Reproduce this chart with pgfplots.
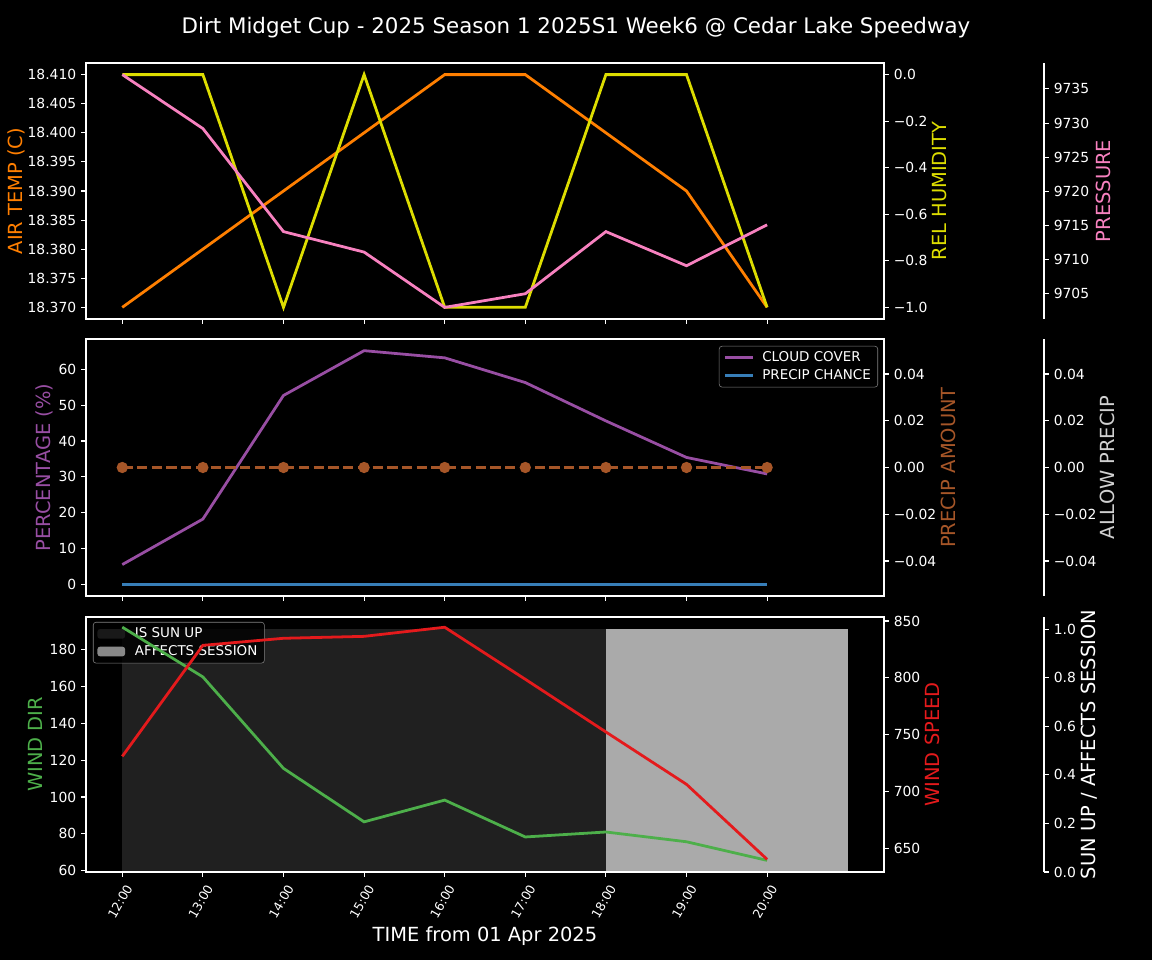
\documentclass[border=0pt]{standalone}
\usepackage{fontspec}
\setmainfont{DejaVu Sans}
\usepackage{pgfplots}
\pgfplotsset{compat=1.18}
\definecolor{cOrange}{HTML}{FF7F00}
\definecolor{cYellow}{HTML}{DDDD00}
\definecolor{cPink}{HTML}{F781BF}
\definecolor{cPurple}{HTML}{984EA3}
\definecolor{cBlue}{HTML}{377EB8}
\definecolor{cBrown}{HTML}{A65628}
\definecolor{cGreen}{HTML}{4DAF4A}
\definecolor{cRed}{HTML}{E41A1C}
\definecolor{cSun}{HTML}{202020}
\definecolor{cSess}{HTML}{AAAAAA}
\definecolor{cAllow}{HTML}{D0D0D0}
\pgfplotsset{
  base/.style={
    scale only axis, anchor=south west, width=574.56pt,
    xmin=-0.45, xmax=9.45,
    axis line style={white, line width=0.8pt},
    tick style={white, line width=0.8pt},
    major tick length=3.5pt,
    tick align=outside,
    scaled ticks=false,
    ticklabel style={text=white, font=\fontsize{10}{12}\selectfont},
    label style={font=\fontsize{14}{17}\selectfont},
    /pgf/number format/assume math mode=true,
    /pgf/number format/1000 sep={},
    xtick={0,...,8},
  },
  twin/.style={base, hide x axis, axis y line*=right},
  far/.style={base, hide x axis, axis y line*=right, width=689.76pt, xmax=11.435},
  dline/.style={line width=2pt, mark=none},
  patchlegend/.style={legend image code/.code={\fill[##1] (0pt,-3.5pt) rectangle (20pt,3.5pt); \path (25pt,0pt);}},
  linelegend/.style={legend image code/.code={\draw[##1] (0pt,0pt) -- (20pt,0pt); \path (24pt,0pt);}},
  mylegend/.style={legend cell align=left, legend style={fill=black, fill opacity=0.8, text opacity=1, draw=gray, rounded corners=2pt, text=white, font=\fontsize{9.7}{12}\selectfont}},
}
\begin{document}
\begin{tikzpicture}
\fill[black] (0,0) rectangle (829.44pt,691.2pt);
\node[text=white, font=\fontsize{15.4}{18}\selectfont] at (414.72pt,671.04pt) {Dirt Midget Cup - 2025 Season 1 2025S1 Week6 @ Cedar Lake Speedway};

% ---------------- Panel 1 ----------------
\begin{axis}[base, at={(61.92pt,461.52pt)}, height=184.32pt,
  ymin=18.368, ymax=18.412, xtick pos=bottom, ytick pos=left, xticklabels={},
  ytick={18.370,18.375,18.380,18.385,18.390,18.395,18.400,18.405,18.410},
  yticklabels={18.370,18.375,18.380,18.385,18.390,18.395,18.400,18.405,18.410},
  ylabel={AIR TEMP (C)}, ylabel style={text=cOrange}, ylabel shift=-5pt]
\addplot[dline, cOrange] coordinates {(0,18.370)(1,18.380)(2,18.390)(3,18.400)(4,18.410)(5,18.410)(6,18.400)(7,18.390)(8,18.370)};
\end{axis}
\begin{axis}[twin, at={(61.92pt,461.52pt)}, height=184.32pt,
  ymin=-1.05, ymax=0.05, ytick={-1,-0.8,-0.6,-0.4,-0.2,0},
  yticklabels={−1.0,−0.8,−0.6,−0.4,−0.2,0.0},
  ylabel={REL HUMIDITY}, ylabel style={text=cYellow}, ylabel shift=-3.7pt]
\addplot[dline, cYellow] coordinates {(0,0)(1,0)(2,-1)(3,0)(4,-1)(5,-1)(6,0)(7,0)(8,-1)};
\node[anchor=south east, text=white, font=\fontsize{10}{12}\selectfont, inner sep=1pt] at (rel axis cs:1,1) {+1e4};
\end{axis}
\begin{axis}[far, at={(61.92pt,461.52pt)}, height=184.32pt,
  ymin=9701.3, ymax=9738.8, ytick={9705,9710,9715,9720,9725,9730,9735},
  ylabel={PRESSURE}, ylabel style={text=cPink}, ylabel shift=-2pt]
\addplot[dline, cPink] coordinates {(0,9737.1)(1,9729.2)(2,9714.1)(3,9711.1)(4,9703.0)(5,9705.0)(6,9714.1)(7,9709.1)(8,9715.1)};
\end{axis}

% ---------------- Panel 2 ----------------
\begin{axis}[base, mylegend, at={(61.92pt,262.08pt)}, height=185.04pt,
  ymin=-3.27, ymax=68.46, xtick pos=bottom, ytick pos=left, xticklabels={},
  ytick={0,10,20,30,40,50,60},
  ylabel={PERCENTAGE (\%)}, ylabel style={text=cPurple}, ylabel shift=-2.7pt,
  legend style={at={(rel axis cs:1,1)}, anchor=north east, xshift=-4.3pt, yshift=-5pt}]
\addplot[dline, cPurple, linelegend] coordinates {(0,5.5)(1,18.2)(2,52.7)(3,65.2)(4,63.2)(5,56.3)(6,45.6)(7,35.4)(8,30.8)};
\addlegendentry{CLOUD COVER}
\addplot[dline, cBlue, linelegend] coordinates {(0,0)(1,0)(2,0)(3,0)(4,0)(5,0)(6,0)(7,0)(8,0)};
\addlegendentry{PRECIP CHANCE}
\end{axis}
\begin{axis}[twin, at={(61.92pt,262.08pt)}, height=185.04pt,
  ymin=-0.055, ymax=0.055, ytick={-0.04,-0.02,0,0.02,0.04},
  yticklabels={−0.04,−0.02,0.00,0.02,0.04},
  ylabel={PRECIP AMOUNT}, ylabel style={text=cBrown}, ylabel shift=-3.5pt]
\addplot[line width=2pt, cBrown, dash pattern=on 7.4pt off 3.2pt, mark=*, mark size=3pt, mark options={solid, fill=cBrown, draw=cBrown}] coordinates {(0,0)(1,0)(2,0)(3,0)(4,0)(5,0)(6,0)(7,0)(8,0)};
\end{axis}
\begin{axis}[far, at={(61.92pt,262.08pt)}, height=185.04pt,
  ymin=-0.055, ymax=0.055, ytick={-0.04,-0.02,0,0.02,0.04},
  yticklabels={−0.04,−0.02,0.00,0.02,0.04},
  ylabel={ALLOW PRECIP}, ylabel style={text=cAllow}, ylabel shift=-4.3pt]
\end{axis}

% ---------------- Panel 3 ----------------
\begin{axis}[far, mylegend, at={(61.92pt,63.36pt)}, height=183.6pt,
  ymin=0, ymax=1.05, ytick={0,0.2,0.4,0.6,0.8,1},
  yticklabels={0.0,0.2,0.4,0.6,0.8,1.0},
  ylabel={SUN UP / AFFECTS SESSION}, ylabel style={text=white}, ylabel shift=-3pt,
  legend style={at={(rel axis cs:0,1)}, anchor=north west, xshift=5pt, yshift=-3.6pt}]
\addplot[fill=cSun, draw=none, patchlegend] coordinates {(0,0)(0,1)(6,1)(6,0)};
\addlegendentry{IS SUN UP}
\addplot[fill=cSess, draw=none, patchlegend] coordinates {(6,0)(6,1)(9,1)(9,0)};
\addlegendentry{AFFECTS SESSION}
\end{axis}
\begin{axis}[base, at={(61.92pt,63.36pt)}, height=183.6pt,
  ymin=59.3, ymax=197.6, xtick pos=bottom, ytick pos=left,
  xticklabels={12:00,13:00,14:00,15:00,16:00,17:00,18:00,19:00,20:00},
  xticklabel style={font=\fontsize{9}{10.8}\selectfont, inner sep=0pt, xshift=5pt, yshift=-6.3pt, rotate=60, anchor=east},
  ytick={60,80,100,120,140,160,180},
  xlabel={TIME from 01 Apr 2025},
  xlabel style={text=white, at={(rel axis cs:0.5,0)}, anchor=center, yshift=-46.08pt},
  ylabel={WIND DIR}, ylabel style={text=cGreen}, ylabel shift=-1.5pt]
\addplot[dline, cGreen] coordinates {(0,192.1)(1,165.1)(2,115.5)(3,86.5)(4,98.3)(5,78.3)(6,81.0)(7,75.7)(8,65.6)};
\end{axis}
\begin{axis}[twin, at={(61.92pt,63.36pt)}, height=183.6pt,
  ymin=629.5, ymax=853.5, ytick={650,700,750,800,850},
  ylabel={WIND SPEED}, ylabel style={text=cRed}, ylabel shift=-3.5pt]
\addplot[dline, cRed] coordinates {(0,731.1)(1,828.6)(2,834.8)(3,836.5)(4,844.5)(5,798.8)(6,752.5)(7,706.5)(8,640.6)};
\end{axis}
\pgfresetboundingbox
\useasboundingbox (0,0) rectangle (829.44pt,691.2pt);
\end{tikzpicture}
\end{document}
